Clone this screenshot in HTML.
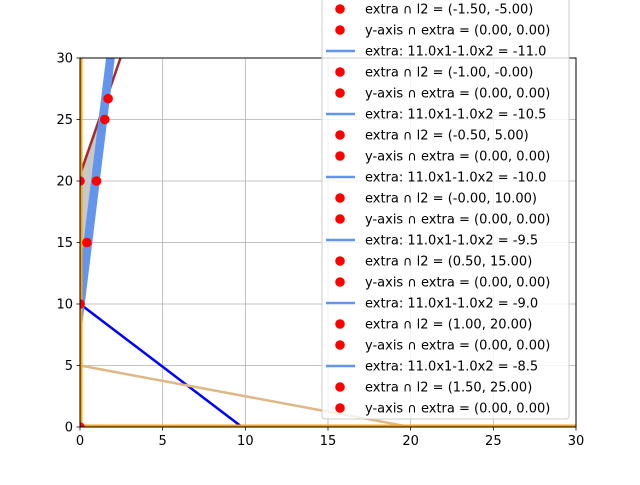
<!DOCTYPE html>
<html><head><meta charset="utf-8"><style>
body{margin:0;background:#fff}
svg{font-family:"DejaVu Sans","Liberation Sans",sans-serif}
</style></head><body>
<svg id="c" width="640" height="480" xmlns="http://www.w3.org/2000/svg"></svg>
<script>
const xTicks=[0,5,10,15,20,25,30];
const yTicks=[0,5,10,15,20,25,30];
const blueLine=[[0,10],[9.8,0]];
const tanLine=[[0,5],[20,0]];
const brownLine=[[0,20.5],[2.45,30]];
const extraConsts=[-11.0,-10.5,-10.0,-9.5,-9.0,-8.5];
const fillPoly=[[0,20.5],[0,10],[1.35,25.8]];
const redPts=[[0,20],[0.42,15],[1.0,20],[1.5,25],[1.7,26.7],[0,10],[0,0]];
const l2Labels=["(-1.50, -5.00)","(-1.00, -0.00)","(-0.50, 5.00)","(-0.00, 10.00)","(0.50, 15.00)","(1.00, 20.00)","(1.50, 25.00)"];
const lineLabels=["-11.0","-10.5","-10.0","-9.5","-9.0","-8.5"];

const L=80,R=576,T=58,B=427;
const sx=v=>L+(v/30)*(R-L), sy=v=>B-(v/30)*(B-T);
const svg=document.getElementById('c');
const NS='http://www.w3.org/2000/svg';
function mk(tag,attrs,parent){const e=document.createElementNS(NS,tag);for(const k in attrs)e.setAttribute(k,attrs[k]);(parent||svg).appendChild(e);return e;}
const clip=mk('clipPath',{id:'pc'});mk('rect',{x:L,y:T,width:R-L,height:B-T},clip);
xTicks.forEach(t=>{const g=mk('line',{x1:sx(t),x2:sx(t),y1:T,y2:B,stroke:'#b0b0b0','stroke-width':0.8});

});
yTicks.forEach(t=>{const g=mk('line',{x1:L,x2:R,y1:sy(t),y2:sy(t),stroke:'#b0b0b0','stroke-width':0.8});

});
const pg=mk('g',{'clip-path':'url(#pc)'});


const poly=mk('polygon',{points:fillPoly.map(p=>sx(p[0])+','+sy(p[1])).join(' '),fill:'#c8c8c8'},pg);


function seg(p,color,w,name,par){const e=mk('line',{x1:sx(p[0][0]),y1:sy(p[0][1]),x2:sx(p[1][0]),y2:sy(p[1][1]),stroke:color,'stroke-width':w},par||pg);

}
seg(brownLine,'#a52a2a',2.5,'brown-line');
seg(blueLine,'#0000ff',2.5,'blue-line');
seg(tanLine,'#deb887',2.5,'tan-line');
extraConsts.forEach(c=>{const e=mk('line',{x1:sx(0),y1:sy(-c),x2:sx((30+c)/11),y2:sy(30),stroke:'#6495ed','stroke-width':5},pg);

});
seg([[0,0],[0,30]],'orange',5,'y-axis-constraint');
seg([[0,0],[30,0]],'orange',5,'x-axis-constraint');
redPts.forEach(p=>{const e=mk('circle',{cx:sx(p[0]),cy:sy(p[1]),r:4.8,fill:'red'},pg);

});
const fr=mk('rect',{x:L,y:T,width:R-L,height:B-T,fill:'none',stroke:'#000','stroke-width':1});


xTicks.forEach(t=>{mk('line',{x1:sx(t),x2:sx(t),y1:B,y2:B+3.5,stroke:'#000','stroke-width':0.8});
const tx=mk('text',{x:sx(t),y:B+18,'text-anchor':'middle','font-size':13});tx.textContent=t;

});
yTicks.forEach(t=>{mk('line',{x1:L-3.5,x2:L,y1:sy(t),y2:sy(t),stroke:'#000','stroke-width':0.8});
const tx=mk('text',{x:L-7,y:sy(t)+4.5,'text-anchor':'end','font-size':13});tx.textContent=t;

});
const lg=mk('g',{});


mk('rect',{x:322,y:-10,width:247,height:429,rx:3,fill:'#fff','fill-opacity':0.8,stroke:'#ccc','stroke-width':1},lg);
const rows=[];
for(let i=0;i<l2Labels.length;i++){rows.push(['p','extra ∩ l2 = '+l2Labels[i]]);rows.push(['p','y-axis ∩ extra = (0.00, 0.00)']);if(i<lineLabels.length)rows.push(['l','extra: 11.0x1-1.0x2 = '+lineLabels[i]]);}
rows.forEach((r,i)=>{const y=9+i*21;
if(r[0]==='p')mk('circle',{cx:340,cy:y,r:4.8,fill:'red'},lg);
else mk('line',{x1:326,x2:355,y1:y,y2:y,stroke:'#6495ed','stroke-width':2.5},lg);
const tx=mk('text',{x:365,y:y+4.5,'font-size':13},lg);tx.textContent=r[1];

});
</script>
</body></html>
